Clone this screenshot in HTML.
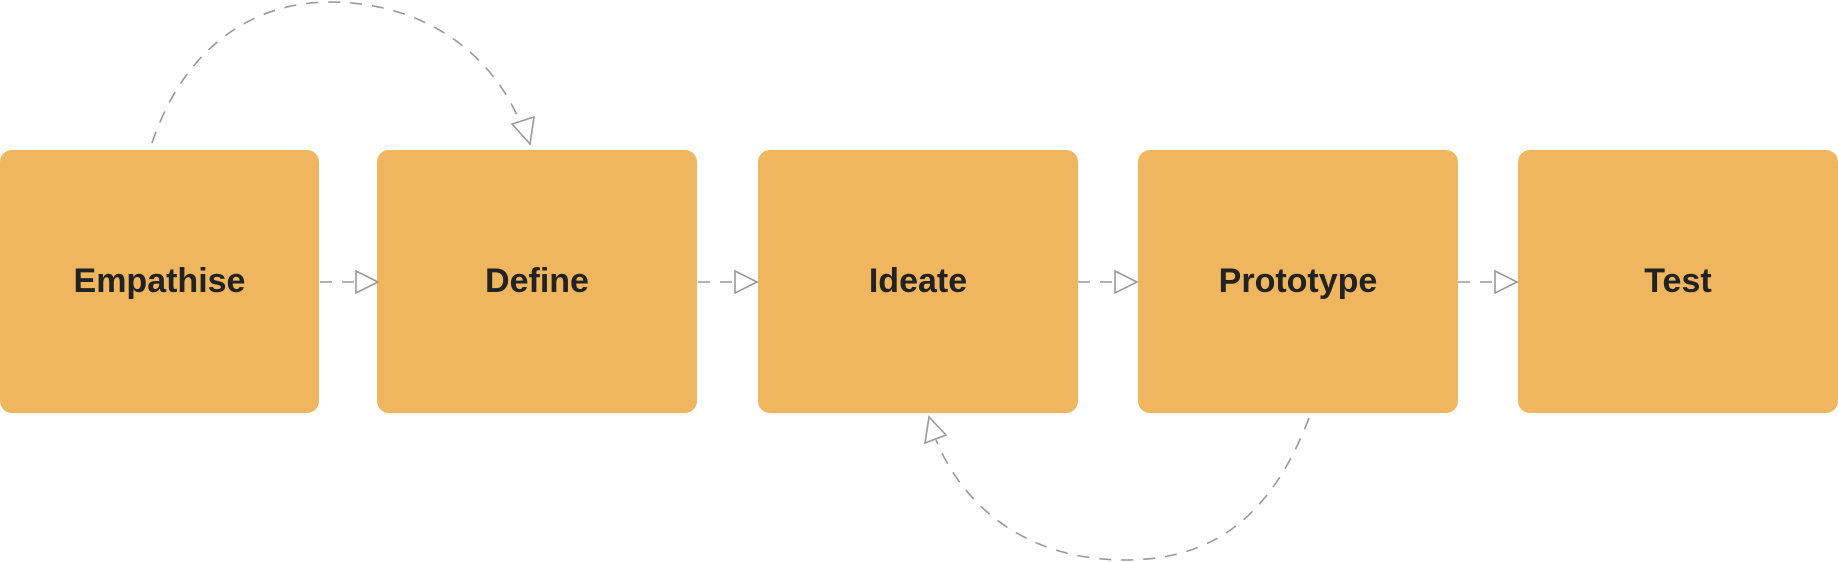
<!DOCTYPE html>
<html><head><style>
html,body{margin:0;padding:0;background:#fff;width:1838px;height:562px;overflow:hidden}
.b{position:absolute;top:150px;height:263px;width:320px;background:#f0b55f;border-radius:12px;display:flex;align-items:center;justify-content:center;font-family:"Liberation Sans",sans-serif;font-weight:bold;font-size:34px;color:#222}
svg{position:absolute;left:0;top:0}
</style></head><body>
<div class="b" style="left:0;width:319px">Empathise</div>
<div class="b" style="left:377px">Define</div>
<div class="b" style="left:758px">Ideate</div>
<div class="b" style="left:1138px">Prototype</div>
<div class="b" style="left:1518px">Test</div>
<svg width="1838" height="562" fill="none" stroke="#999" stroke-width="1.6">
<g stroke-dasharray="12 10">
<line x1="320" y1="282" x2="355" y2="282"/>
<line x1="698" y1="282" x2="735" y2="282"/>
<line x1="1078" y1="282" x2="1115" y2="282"/>
<line x1="1458" y1="282" x2="1495" y2="282"/>
<path d="M152,143 C185,45 255,2 330,2 C420,2 490,50 520,122"/>
<path d="M1309,418 C1270,520 1210,560 1125,560 C1030,560 965,510 936,440"/>
</g>
<g stroke-linejoin="miter">
<polygon points="356,271 378,282 356,293"/>
<polygon points="735,271 757,282 735,293"/>
<polygon points="1115,271 1137,282 1115,293"/>
<polygon points="1495,271 1517,282 1495,293"/>
<polygon points="530,144 512,124 534,117"/>
<polygon points="929,417 925,443 946,435"/>
</g>
</svg>
</body></html>
